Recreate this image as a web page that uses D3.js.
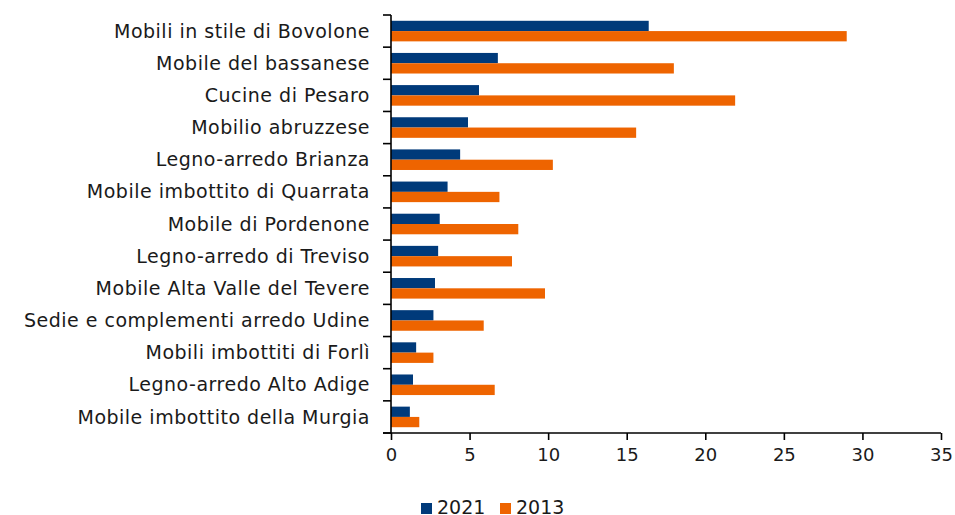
<!DOCTYPE html>
<html>
<head>
<meta charset="utf-8">
<script src="https://cdn.jsdelivr.net/npm/d3@7"></script>
<style>
  body { margin: 0; background: #fff; }
  svg text { font-family: "DejaVu Sans", sans-serif; fill: #1a1a1a; }
  .axis path, .axis line { stroke: #000; stroke-width: 1.6px; }
</style>
</head>
<body>
<div id="chart"></div>
<script>
const categories = [
  'Mobili in stile di Bovolone',
  'Mobile del bassanese',
  'Cucine di Pesaro',
  'Mobilio abruzzese',
  'Legno-arredo Brianza',
  'Mobile imbottito di Quarrata',
  'Mobile di Pordenone',
  'Legno-arredo di Treviso',
  'Mobile Alta Valle del Tevere',
  'Sedie e complementi arredo Udine',
  'Mobili imbottiti di Forlì',
  'Legno-arredo Alto Adige',
  'Mobile imbottito della Murgia'
];
const values2021 = [16.4, 6.8, 5.6, 4.9, 4.4, 3.6, 3.1, 3.0, 2.8, 2.7, 1.6, 1.4, 1.2];
const values2013 = [29.0, 18.0, 21.9, 15.6, 10.3, 6.9, 8.1, 7.7, 9.8, 5.9, 2.7, 6.6, 1.8];
const seriesNames = ['2021', '2013'];
const xTicks = [0, 5, 10, 15, 20, 25, 30, 35];

const config = {
  width: 955, height: 515,
  margin: {top: 15, right: 14, bottom: 82, left: 391},
  colors: ['#003a7a', '#ee6400']
};

const innerW = config.width - config.margin.left - config.margin.right;
const innerH = config.height - config.margin.top - config.margin.bottom;

const svg = d3.select('#chart').append('svg')
    .attr('width', config.width)
    .attr('height', config.height);

const chart = svg.append('g')
    .attr('transform', `translate(${config.margin.left},${config.margin.top})`);

const xScale = d3.scaleLinear().domain([0, 35]).range([0, innerW]);
const yScale = d3.scaleBand().domain(categories).range([0, innerH]).paddingInner(0.36).paddingOuter(0.18);
const subScale = d3.scaleBand().domain(seriesNames).range([0, yScale.bandwidth()]);

const rows = categories.map((c, i) => ({name: c, values: [values2021[i], values2013[i]]}));

// Bars
const groups = chart.selectAll('.row')
    .data(rows).join('g')
    .attr('class', 'row')
    .attr('transform', d => `translate(0,${yScale(d.name)})`);

groups.selectAll('rect')
    .data(d => d.values.map((v, j) => ({key: seriesNames[j], value: v, j: j})))
    .join('rect')
    .attr('x', 0)
    .attr('y', d => subScale(d.key))
    .attr('height', subScale.bandwidth())
    .attr('width', d => xScale(d.value))
    .attr('fill', d => config.colors[d.j]);

// Y axis: ticks between categories
const yAxisG = chart.append('g').attr('class', 'axis');
yAxisG.append('line')
    .attr('x1', 0).attr('x2', 0).attr('y1', 0).attr('y2', innerH);
const boundaries = d3.range(categories.length + 1).map(i => i * innerH / categories.length);
yAxisG.selectAll('.ytick')
    .data(boundaries).join('line')
    .attr('x1', -8).attr('x2', 0)
    .attr('y1', d => d).attr('y2', d => d);

yAxisG.selectAll('.ylabel')
    .data(categories).join('text')
    .attr('class', 'ylabel')
    .attr('x', -21)
    .attr('y', d => yScale(d) + yScale.bandwidth() / 2)
    .attr('dy', '0.35em')
    .attr('text-anchor', 'end')
    .attr('font-size', 19)
    .attr('letter-spacing', 0.5)
    .text(d => d);

// X axis
const xAxis = d3.axisBottom(xScale).tickValues(xTicks).tickSize(7).tickSizeOuter(0).tickPadding(8);
const xAxisG = chart.append('g')
    .attr('class', 'axis')
    .attr('transform', `translate(0,${innerH})`)
    .call(xAxis);
xAxisG.select('.domain').attr('d', `M-8,0H${innerW}`);
xAxisG.selectAll('text').attr('font-size', 18).style('font-family', '"DejaVu Sans", sans-serif').attr('fill', '#1a1a1a');

// Legend
const legend = svg.append('g').attr('transform', 'translate(421,503)');
const legendItems = legend.selectAll('g')
    .data(seriesNames).join('g')
    .attr('transform', (d, i) => `translate(${i * 79},0)`);
legendItems.append('rect')
    .attr('width', 11).attr('height', 11)
    .attr('fill', (d, i) => config.colors[i]);
legendItems.append('text')
    .attr('x', 16).attr('y', 11)
    .attr('font-size', 19)
    .text(d => d);
</script>
</body>
</html>
